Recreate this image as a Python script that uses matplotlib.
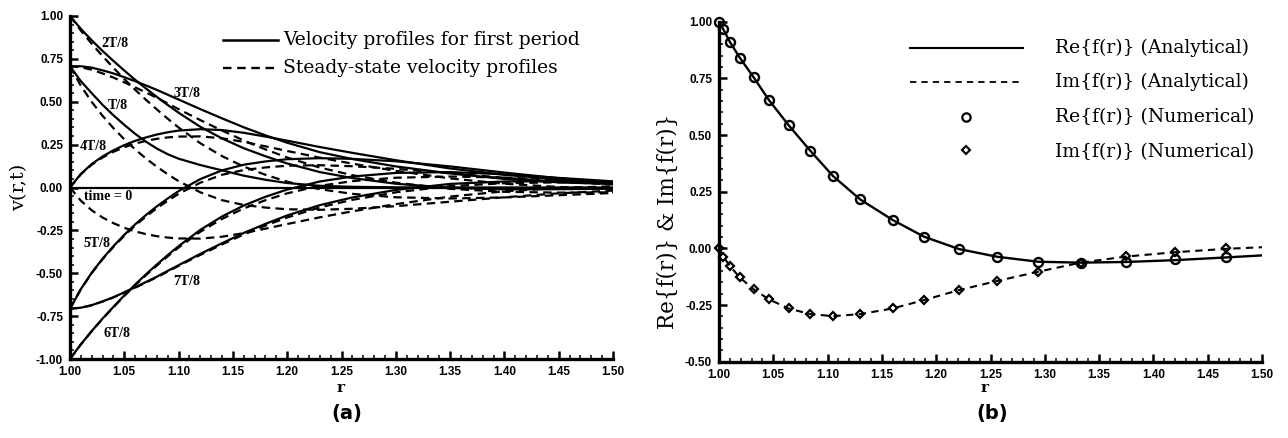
import numpy as np
import matplotlib
matplotlib.use("Agg")
import matplotlib.pyplot as plt
from matplotlib.ticker import MultipleLocator, FuncFormatter

plt.rcParams['axes.unicode_minus'] = False

# ---------------- Panel (a) data ----------------
r_a = [1.00, 1.01, 1.02, 1.03, 1.04, 1.05, 1.06, 1.07, 1.08, 1.09, 1.10, 1.12,
       1.14, 1.16, 1.18, 1.20, 1.23, 1.26, 1.30, 1.35, 1.40, 1.45, 1.50]

# first-period (solid) profiles
fp_0 = [0.0] * 23
fp_1 = [0.707, 0.620, 0.550, 0.482, 0.421, 0.365, 0.313, 0.267, 0.227, 0.194, 0.168, 0.131,
        0.100, 0.069, 0.045, 0.026, 0.010, 0.004, 0.001, 0.000, 0.000, 0.000, 0.000]
fp_2 = [1.000, 0.925, 0.858, 0.796, 0.738, 0.682, 0.628, 0.577, 0.528, 0.481, 0.436, 0.354,
        0.286, 0.229, 0.182, 0.140, 0.090, 0.055, 0.022, -0.002, -0.011, -0.010, -0.007]
fp_3 = [0.707, 0.707, 0.699, 0.683, 0.665, 0.643, 0.620, 0.595, 0.569, 0.541, 0.513, 0.457,
        0.403, 0.351, 0.304, 0.261, 0.206, 0.166, 0.123, 0.082, 0.050, 0.030, 0.020]
fp_4 = [0.000, 0.079, 0.137, 0.181, 0.217, 0.247, 0.272, 0.292, 0.309, 0.322, 0.332, 0.340,
        0.335, 0.319, 0.297, 0.273, 0.236, 0.202, 0.159, 0.111, 0.074, 0.048, 0.031]
fp_5 = [-0.707, -0.592, -0.497, -0.415, -0.342, -0.276, -0.215, -0.160, -0.110, -0.064, -0.021, 0.049,
        0.100, 0.133, 0.152, 0.165, 0.171, 0.167, 0.153, 0.123, 0.087, 0.054, 0.030]
fp_6 = [-1.000, -0.914, -0.837, -0.764, -0.696, -0.629, -0.566, -0.506, -0.449, -0.394, -0.342, -0.247,
        -0.169, -0.105, -0.054, -0.012, 0.035, 0.064, 0.085, 0.090, 0.077, 0.056, 0.036]
fp_7 = [-0.707, -0.701, -0.686, -0.664, -0.640, -0.611, -0.582, -0.551, -0.520, -0.486, -0.453, -0.387,
        -0.325, -0.265, -0.212, -0.163, -0.103, -0.058, -0.014, 0.021, 0.035, 0.037, 0.032]

# steady-state (dashed) profiles
ss_0 = [0.000, -0.077, -0.133, -0.175, -0.208, -0.235, -0.256, -0.272, -0.284, -0.292, -0.297, -0.298,
        -0.287, -0.266, -0.240, -0.213, -0.174, -0.139, -0.097, -0.053, -0.022, -0.003, 0.007]
ss_1 = [0.707, 0.593, 0.499, 0.418, 0.346, 0.281, 0.222, 0.169, 0.121, 0.077, 0.037, -0.028,
        -0.074, -0.102, -0.117, -0.127, -0.130, -0.124, -0.109, -0.083, -0.057, -0.034, -0.018]
ss_2 = [1.000, 0.915, 0.838, 0.766, 0.698, 0.632, 0.570, 0.511, 0.455, 0.401, 0.350, 0.258,
        0.183, 0.122, 0.074, 0.034, -0.010, -0.037, -0.057, -0.064, -0.058, -0.045, -0.032]
ss_3 = [0.707, 0.701, 0.687, 0.665, 0.641, 0.613, 0.584, 0.554, 0.523, 0.490, 0.457, 0.393,
        0.332, 0.274, 0.222, 0.175, 0.116, 0.072, 0.028, -0.008, -0.025, -0.030, -0.028]
ss_4 = [0.000, 0.077, 0.133, 0.175, 0.208, 0.235, 0.256, 0.272, 0.284, 0.292, 0.297, 0.298,
        0.287, 0.266, 0.240, 0.213, 0.174, 0.139, 0.097, 0.053, 0.022, 0.003, -0.007]
ss_5 = [-0.707, -0.593, -0.499, -0.418, -0.346, -0.281, -0.222, -0.169, -0.121, -0.077, -0.037, 0.028,
        0.074, 0.102, 0.117, 0.127, 0.130, 0.124, 0.109, 0.083, 0.057, 0.034, 0.018]
ss_6 = [-1.000, -0.915, -0.838, -0.766, -0.698, -0.632, -0.570, -0.511, -0.455, -0.401, -0.350, -0.258,
        -0.183, -0.122, -0.074, -0.034, 0.010, 0.037, 0.057, 0.064, 0.058, 0.045, 0.032]
ss_7 = [-0.707, -0.701, -0.687, -0.665, -0.641, -0.613, -0.584, -0.554, -0.523, -0.490, -0.457, -0.393,
        -0.332, -0.274, -0.222, -0.175, -0.116, -0.072, -0.028, 0.008, 0.025, 0.030, 0.028]

curve_labels = ["time = 0", "T/8", "2T/8", "3T/8", "4T/8", "5T/8", "6T/8", "7T/8"]
label_r = [1.035, 1.0445, 1.0414, 1.1074, 1.0215, 1.0245, 1.043, 1.1074]
label_v = [-0.054, 0.481, 0.841, 0.549, 0.238, -0.326, -0.850, -0.549]

# ---------------- Panel (b) data ----------------
r_num = [1.000, 1.004, 1.010, 1.019, 1.032, 1.046, 1.064, 1.084, 1.105, 1.130,
         1.160, 1.189, 1.221, 1.256, 1.294, 1.333, 1.375, 1.420, 1.467]
re_num = [1.000, 0.966, 0.911, 0.842, 0.754, 0.654, 0.544, 0.431, 0.319, 0.216,
          0.125, 0.051, -0.003, -0.037, -0.059, -0.063, -0.059, -0.049, -0.037]
im_num = [0.000, -0.037, -0.077, -0.128, -0.181, -0.225, -0.265, -0.290, -0.299, -0.290,
          -0.265, -0.228, -0.184, -0.144, -0.103, -0.063, -0.033, -0.015, 0.003]

r_ana = [1.000, 1.004, 1.010, 1.019, 1.032, 1.046, 1.064, 1.084, 1.105, 1.130,
         1.160, 1.189, 1.221, 1.256, 1.294, 1.333, 1.375, 1.420, 1.467, 1.500]
re_ana = [1.000, 0.966, 0.911, 0.842, 0.754, 0.654, 0.544, 0.431, 0.319, 0.216,
          0.125, 0.051, -0.003, -0.037, -0.059, -0.063, -0.060, -0.052, -0.040, -0.031]
im_ana = [0.000, -0.037, -0.077, -0.128, -0.181, -0.225, -0.265, -0.290, -0.299, -0.290,
          -0.265, -0.228, -0.184, -0.144, -0.103, -0.063, -0.036, -0.017, -0.002, 0.005]

legend_b = ["Re{f(r)} (Analytical)", "Im{f(r)} (Analytical)",
            "Re{f(r)} (Numerical)", "Im{f(r)} (Numerical)"]

# ---------------- Figure ----------------
W, H = 1288, 438
fig = plt.figure(figsize=(W / 100, H / 100), dpi=100)
axA = fig.add_axes([70 / W, 1 - 359 / H, 543 / W, 343 / H])
axB = fig.add_axes([719 / W, 1 - 361.7 / H, 543 / W, 340 / H])

tick_font = dict(family="Liberation Sans", weight="bold", size=8.5)
fmt = FuncFormatter(lambda v, p: f"{v:.2f}")

for ax in (axA, axB):
    for s in ("top", "right"):
        ax.spines[s].set_visible(False)
    for s in ("left", "bottom"):
        ax.spines[s].set_linewidth(2.4)
    ax.set_xlim(1.0, 1.5)
    ax.xaxis.set_major_locator(MultipleLocator(0.05))
    ax.xaxis.set_minor_locator(MultipleLocator(0.01))
    ax.yaxis.set_major_locator(MultipleLocator(0.25))
    ax.yaxis.set_minor_locator(MultipleLocator(0.05))
    ax.xaxis.set_major_formatter(fmt)
    ax.yaxis.set_major_formatter(fmt)
    ax.tick_params(which="major", direction="in", length=6, width=1.8, pad=5)
    ax.tick_params(which="minor", direction="in", length=3, width=1.1)
    for lab in ax.get_xticklabels() + ax.get_yticklabels():
        lab.set_fontproperties(matplotlib.font_manager.FontProperties(**tick_font))
    ax.patch.set_alpha(0)

axA.set_ylim(-1.0, 1.0)
axB.set_ylim(-0.5, 1.0)

# panel (a) curves
solid_kw = dict(color="black", lw=1.6, solid_capstyle="butt")
dash_kw = dict(color="black", lw=1.6, linestyle=(0, (3.8, 2.4)))
for ys in (fp_0, fp_1, fp_2, fp_3, fp_4, fp_5, fp_6, fp_7):
    axA.plot(r_a, ys, **solid_kw)
for ys in (ss_0, ss_1, ss_2, ss_3, ss_4, ss_5, ss_6, ss_7):
    axA.plot(r_a, ys, **dash_kw)

for t, x, y in zip(curve_labels, label_r, label_v):
    axA.text(x, y, t, ha="center", va="center", fontsize=10,
             family="Liberation Serif", weight="bold")

# panel (a) legend
axA.plot([0.2818, 0.383], [0.930, 0.930], transform=axA.transAxes, color="black", lw=1.8)
axA.plot([0.2818, 0.383], [0.848, 0.848], transform=axA.transAxes, color="black", lw=1.7,
         linestyle=(0, (3.6, 2.4)))
axA.text(0.392, 0.930, "Velocity profiles for first period", transform=axA.transAxes,
         ha="left", va="center", fontsize=13.5, family="DejaVu Serif")
axA.text(0.392, 0.848, "Steady-state velocity profiles", transform=axA.transAxes,
         ha="left", va="center", fontsize=13.5, family="DejaVu Serif")

# panel (b) curves
axB.plot(r_ana, re_ana, color="black", lw=1.7)
axB.plot(r_ana, im_ana, color="black", lw=1.5, linestyle=(0, (3.5, 2.6)))
axB.plot(r_num, re_num, linestyle="none", marker="o", ms=6.5, mfc="none", mec="black",
         mew=1.7, clip_on=False)
axB.plot(r_num, im_num, linestyle="none", marker="D", ms=4.5, mfc="none", mec="black",
         mew=1.6, clip_on=False)

# panel (b) legend
axB.plot([0.352, 0.560], [0.923, 0.923], transform=axB.transAxes, color="black", lw=1.5)
axB.plot([0.352, 0.560], [0.823, 0.823], transform=axB.transAxes, color="black", lw=1.3,
         linestyle=(0, (3.5, 2.8)))
axB.plot([0.455], [0.720], transform=axB.transAxes, marker="o", ms=6, mfc="none",
         mec="black", mew=1.6, linestyle="none")
axB.plot([0.455], [0.623], transform=axB.transAxes, marker="D", ms=4.5, mfc="none",
         mec="black", mew=1.5, linestyle="none")
for t, y in zip(legend_b, [0.923, 0.823, 0.720, 0.618]):
    axB.text(0.619, y, t, transform=axB.transAxes, ha="left", va="center",
             fontsize=13.5, family="DejaVu Serif")

# axis labels and panel tags
fig.text(19 / W, 1 - 187 / H, "v(r,t)", rotation=90, ha="center", va="center",
         fontsize=14, family="DejaVu Serif")
fig.text(668 / W, 1 - 221 / H, "Re{f(r)} & Im{f(r)}", rotation=90, ha="center", va="center",
         fontsize=15.5, family="DejaVu Serif")
fig.text(341 / W, 1 - 388 / H, "r", ha="center", va="center", fontsize=11,
         family="DejaVu Serif", weight="bold")
fig.text(985 / W, 1 - 388 / H, "r", ha="center", va="center", fontsize=11,
         family="DejaVu Serif", weight="bold")
fig.text(347 / W, 1 - 413 / H, "(a)", ha="center", va="center", fontsize=14,
         family="DejaVu Sans", weight="bold")
fig.text(992 / W, 1 - 413 / H, "(b)", ha="center", va="center", fontsize=14,
         family="DejaVu Sans", weight="bold")

fig.savefig("out.png", dpi=100, facecolor="white")
